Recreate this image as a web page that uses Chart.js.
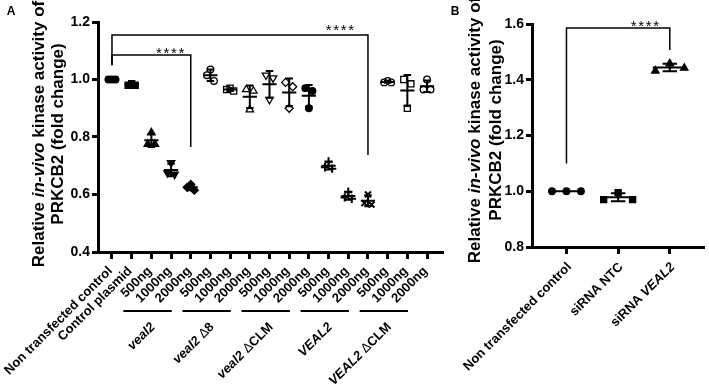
<!DOCTYPE html>
<html>
<head>
<meta charset="utf-8">
<script src="https://cdn.jsdelivr.net/npm/chart.js@4.4.0/dist/chart.umd.min.js"></script>
<style>
    html, body { margin: 0; padding: 0; background: #fff; }
    body { width: 709px; height: 386px; position: relative; overflow: hidden; }
    .panel { position: absolute; top: 0; height: 386px; }
    #wrapA { left: 0; width: 460px; }
    #wrapB { left: 445px; width: 264px; }
</style>
</head>
<body>
<div class="panel" id="wrapA"><canvas id="chartA"></canvas></div>
<div class="panel" id="wrapB"><canvas id="chartB"></canvas></div>
<script>
// Panel A - category labels (text between _ is italic)
const labelsA = ['Non transfected control', 'Control plasmid',
    '500ng', '1000ng', '2000ng', '500ng', '1000ng', '2000ng', '500ng', '1000ng', '2000ng',
    '500ng', '1000ng', '2000ng', '500ng', '1000ng', '2000ng'];
const groupsA = [
    { name: '_veal2_', first: 2, last: 4 },
    { name: '_veal2_ Δ8', first: 5, last: 7 },
    { name: '_veal2_ ΔCLM', first: 8, last: 10 },
    { name: '_VEAL2_', first: 11, last: 13 },
    { name: '_VEAL2_ ΔCLM', first: 14, last: 16 }
];
// replicate values, one list per category
const valuesA = [
    [1.0, 1.0, 1.0],
    [0.985, 0.98, 0.98],
    [0.815, 0.775, 0.775],
    [0.71, 0.675, 0.67],
    [0.635, 0.625, 0.615],
    [1.035, 1.015, 0.995],
    [0.97, 0.965, 0.96],
    [0.895, 0.965, 0.96],
    [0.93, 1.015, 1.005],
    [0.9, 0.99, 0.975],
    [0.9, 0.97, 0.96],
    [0.715, 0.695, 0.69],
    [0.61, 0.59, 0.585],
    [0.6, 0.57, 0.565],
    [0.995, 0.99, 0.99],
    [0.9, 1.0, 0.985],
    [1.0, 0.965, 0.965]
];
const yTicksA = [0.4, 0.6, 0.8, 1.0, 1.2];

// Panel B
const labelsB = ['Non transfected control', 'siRNA NTC', 'siRNA _VEAL2_'];
const valuesB = [
    [1.0, 1.0, 1.0],
    [0.995, 0.97, 0.97],
    [1.458, 1.432, 1.442]
];
const yTicksB = [0.8, 1.0, 1.2, 1.4, 1.6];

// significance brackets (category index / value units)
const sigA = [
    { from: 0, to: 13, top: 1.155, leftEnd: 1.05, rightEnd: 0.737, starX: 11.58, starY: 1.183 },
    { from: 0, to: 4, top: 1.085, leftEnd: 1.05, rightEnd: 0.765, starX: 2.95, starY: 1.103 }
];
const sigB = [
    { from: 0, to: 2, top: 1.586, leftEnd: 1.10, rightEnd: 1.507, starX: 1.52, starY: 1.607 }
];

const titleLines = ['Relative _in-vivo_ kinase activity of', 'PRKCB2 (fold change)'];

const FONT = "'Liberation Sans', Arial, Helvetica, sans-serif";
const SLOT = [0, -1, 1];

const markersA = [
    { style: 'circle', fill: true }, { style: 'rect', fill: true }, { style: 'triangle', fill: true },
    { style: 'triangle', fill: true, rot: 180 }, { style: 'rectRot', fill: true },
    { style: 'circle' }, { style: 'rect' }, { style: 'triangle' }, { style: 'triangle', rot: 180 },
    { style: 'rectRot' }, { style: 'circle', fill: true }, { style: 'cross' }, { style: 'cross' },
    { style: 'crossRot' }, { style: 'circle' }, { style: 'rect' }, { style: 'circle' }
];
const markersB = [
    { style: 'circle', fill: true }, { style: 'rect', fill: true }, { style: 'triangle', fill: true }
];
const radiusFor = { circle: 3.3, rect: 4.3, triangle: 4.3, rectRot: 4, cross: 4.2, crossRot: 4.2 };

const mean = a => a.reduce((s, v) => s + v, 0) / a.length;
const sd = a => {
    const m = mean(a);
    return Math.sqrt(a.reduce((s, v) => s + (v - m) * (v - m), 0) / (a.length - 1));
};

function richParts(str) {
    const parts = [];
    str.split('_').forEach((chunk, i) => {
        chunk.split(/(Δ)/).forEach(s => {
            if (s) parts.push({ text: s, italic: i % 2 === 1, bold: s !== 'Δ' });
        });
    });
    return parts;
}

function fontFor(p, size) {
    return (p.italic ? 'italic ' : '') + (p.bold ? 'bold ' : '') + size + 'px ' + FONT;
}

function drawRich(ctx, str, x, y, angle, size, align) {
    const parts = richParts(str);
    ctx.save();
    ctx.translate(x, y);
    ctx.rotate(angle);
    ctx.textBaseline = 'middle';
    ctx.textAlign = 'left';
    ctx.fillStyle = '#000';
    let total = 0;
    parts.forEach(p => {
        ctx.font = fontFor(p, size);
        p.w = ctx.measureText(p.text).width;
        total += p.w;
    });
    let cx = align === 'right' ? -total : (align === 'center' ? -total / 2 : 0);
    parts.forEach(p => {
        ctx.font = fontFor(p, size);
        ctx.fillText(p.text, cx, 0);
        cx += p.w;
    });
    ctx.restore();
}

function pointsFrom(values, spread) {
    const pts = [];
    values.forEach((reps, c) => {
        reps.forEach((v, j) => pts.push({ x: c + SLOT[j] * spread, y: v, c: c }));
    });
    return pts;
}

function decorPlugin(o) {
    return {
        id: 'decor' + o.name,
        afterDatasetsDraw(chart) {
            const ctx = chart.ctx, xs = chart.scales.x, ys = chart.scales.y;
            ctx.save();
            ctx.strokeStyle = '#000';
            ctx.lineWidth = 2;
            o.values.forEach((reps, c) => {
                const m = mean(reps), s = sd(reps);
                const px = xs.getPixelForValue(c);
                const wM = xs.getPixelForValue(c + o.halfMean) - px;
                const wC = xs.getPixelForValue(c + o.halfCap) - px;
                const yM = ys.getPixelForValue(m);
                const yT = ys.getPixelForValue(m + s);
                const yB = ys.getPixelForValue(m - s);
                ctx.beginPath();
                ctx.moveTo(px - wM, yM); ctx.lineTo(px + wM, yM);
                ctx.moveTo(px, yT); ctx.lineTo(px, yB);
                ctx.moveTo(px - wC, yT); ctx.lineTo(px + wC, yT);
                ctx.moveTo(px - wC, yB); ctx.lineTo(px + wC, yB);
                ctx.stroke();
            });
            ctx.restore();
        },
        afterDraw(chart) {
            const ctx = chart.ctx, xs = chart.scales.x, ys = chart.scales.y;
            const area = chart.chartArea;

            // category labels
            o.labels.forEach((lab, i) => {
                const px = xs.getPixelForValue(i);
                drawRich(ctx, lab, px + o.labelDx, area.bottom + o.labelDy, -Math.PI / 4, 13, 'right');
            });

            // group lines and labels
            ctx.save();
            ctx.strokeStyle = '#000';
            ctx.lineWidth = 2;
            (o.groups || []).forEach(g => {
                const x1 = xs.getPixelForValue(g.first) - 28;
                const x2 = xs.getPixelForValue(g.last) - 19;
                ctx.beginPath();
                ctx.moveTo(x1, area.bottom + 59);
                ctx.lineTo(x2, area.bottom + 59);
                ctx.stroke();
                const mid = (xs.getPixelForValue(g.first) + xs.getPixelForValue(g.last)) / 2;
                drawRich(ctx, g.name, mid - 18, area.bottom + 73, -Math.PI / 4, 13, 'right');
            });

            // significance brackets
            ctx.lineWidth = 1.5;
            o.sig.forEach(b => {
                const xa = xs.getPixelForValue(b.from), xb = xs.getPixelForValue(b.to);
                const yt = ys.getPixelForValue(b.top);
                ctx.beginPath();
                ctx.moveTo(xa, ys.getPixelForValue(b.leftEnd));
                ctx.lineTo(xa, yt);
                ctx.lineTo(xb, yt);
                ctx.lineTo(xb, ys.getPixelForValue(b.rightEnd));
                ctx.stroke();
                const sx = xs.getPixelForValue(b.starX), sy = ys.getPixelForValue(b.starY);
                ctx.fillStyle = '#000';
                ctx.font = '15px ' + FONT;
                ctx.textAlign = 'center';
                ctx.textBaseline = 'alphabetic';
                for (let k = 0; k < 4; k++) {
                    ctx.fillText('*', sx + (k - 1.5) * 7.5, sy + 0.57 * 15);
                }
            });
            ctx.restore();

            // axis title
            const cy = o.titleY;
            drawRich(ctx, titleLines[0], o.titleX[0], cy, -Math.PI / 2, 17, 'center');
            drawRich(ctx, titleLines[1], o.titleX[1], cy, -Math.PI / 2, 17, 'center');

            // panel letter
            ctx.save();
            ctx.fillStyle = '#000';
            ctx.font = 'bold 12px ' + FONT;
            ctx.textAlign = 'center';
            ctx.textBaseline = 'middle';
            ctx.fillText(o.letter, o.letterX, 12);
            ctx.restore();
        }
    };
}

function makeChart(id, o) {
    const mk = ctx => o.markers[ctx.raw ? ctx.raw.c : 0];
    return new Chart(document.getElementById(id), {
        type: 'scatter',
        data: {
            datasets: [{
                data: pointsFrom(o.values, o.spread),
                pointStyle: ctx => mk(ctx).style,
                pointRotation: ctx => mk(ctx).rot || 0,
                pointRadius: ctx => radiusFor[mk(ctx).style],
                pointBackgroundColor: ctx => mk(ctx).fill ? '#000' : '#fff',
                pointBorderColor: '#000',
                pointBorderWidth: ctx => (mk(ctx).style.startsWith('cross') ? 2 : 1.3),
                showLine: false
            }]
        },
        options: {
            responsive: true,
            maintainAspectRatio: false,
            animation: false,
            events: [],
            layout: { padding: { left: 0, top: o.padTop, right: o.padRight, bottom: 0 } },
            plugins: { legend: { display: false }, tooltip: { enabled: false } },
            scales: {
                x: {
                    type: 'linear',
                    min: o.xMin,
                    max: o.xMax,
                    afterBuildTicks: ax => { ax.ticks = o.labels.map((_, i) => ({ value: i })); },
                    afterFit: ax => { ax.height = o.xAxisH; },
                    ticks: { display: false, autoSkip: false },
                    grid: { drawOnChartArea: false, drawTicks: true, tickLength: 7, color: '#000', lineWidth: 3 },
                    border: { display: true, color: '#000', width: 3 }
                },
                y: {
                    min: o.yTicks[0],
                    max: o.yTicks[o.yTicks.length - 1],
                    afterBuildTicks: ax => { ax.ticks = o.yTicks.map(v => ({ value: v })); },
                    afterFit: ax => { ax.width = o.yAxisW; },
                    ticks: {
                        color: '#000',
                        padding: 2,
                        font: { family: FONT, size: 14, weight: 'bold' },
                        callback: v => Number(v).toFixed(1)
                    },
                    grid: { drawOnChartArea: false, drawTicks: true, tickLength: 6, color: '#000', lineWidth: 3 },
                    border: { display: true, color: '#000', width: 3 }
                }
            }
        },
        plugins: [decorPlugin(o)]
    });
}

document.addEventListener('DOMContentLoaded', function () {
    makeChart('chartA', {
        name: 'A', letter: 'A', letterX: 11,
        labels: labelsA, groups: groupsA, values: valuesA, yTicks: yTicksA, sig: sigA,
        markers: markersA, spread: 0.18, halfMean: 0.36, halfCap: 0.19,
        xMin: -0.71, xMax: 16.76, padTop: 22, padRight: 18, yAxisW: 98, xAxisH: 134,
        labelDx: -1.5, labelDy: 17, titleX: [39, 58], titleY: 134
    });
    makeChart('chartB', {
        name: 'B', letter: 'B', letterX: 10,
        labels: labelsB, values: valuesB, yTicks: yTicksB, sig: sigB,
        markers: markersB, spread: 0.28, halfMean: 0.33, halfCap: 0.14,
        xMin: -0.667, xMax: 2.65, padTop: 24, padRight: 3, yAxisW: 87, xAxisH: 139,
        labelDx: 3, labelDy: 18, titleX: [30.5, 51.5], titleY: 130
    });
});
</script>
</body>
</html>
